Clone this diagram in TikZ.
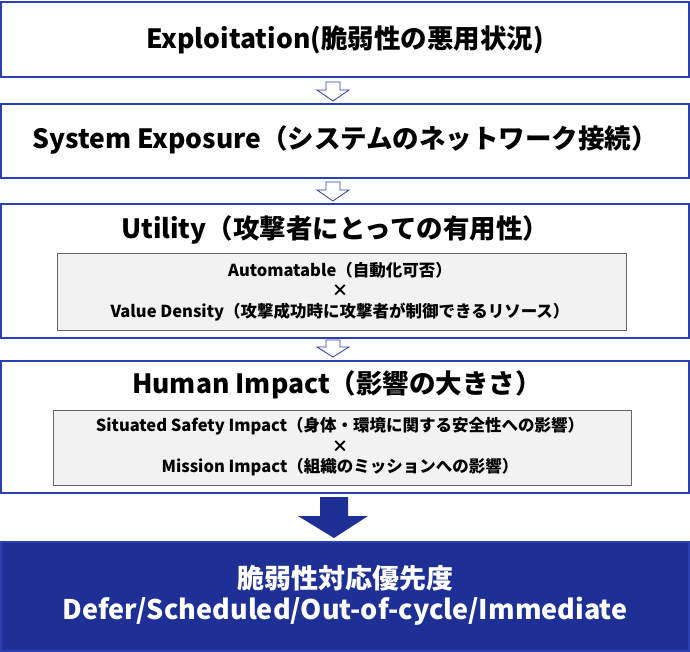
\documentclass[tikz,border=0pt]{standalone}
\usepackage{fontspec}
\setmainfont{Noto Sans CJK JP}
\definecolor{bblue}{HTML}{2B3FB0}
\definecolor{dblue}{HTML}{1E2F96}
\definecolor{igray}{HTML}{F2F2F2}
\begin{document}
\begin{tikzpicture}[x=1pt,y=-1pt,
 box/.style={draw=bblue,line width=2pt},
 inner/.style={draw=gray!80!black,fill=igray,line width=0.8pt},
 ttl/.style={font=\fontsize{26.5}{28}\selectfont\bfseries},
 sm/.style={font=\fontsize{16.5}{17}\selectfont\bfseries},
 bt/.style={font=\fontsize{27}{28}\selectfont\bfseries,text=white},
 sarr/.style={draw=bblue,fill=white,line width=0.8pt},
 barr/.style={fill=dblue}]
\useasboundingbox (0,0) rectangle (690,652);
\draw[box] (1,2) rectangle (689,77);
\node[ttl] (t1) at (345,40) {Exploitation(脆弱性の悪用状況)};
\draw[sarr] (326,82)--(340,82)--(340,90)--(349,90)--(333,101)--(317,90)--(326,90)--cycle;
\draw[box] (1,104) rectangle (689,178);
\node[ttl] (t2) at (345,140) {System Exposure（システムのネットワーク接続）};
\draw[sarr] (326,182)--(340,182)--(340,190)--(349,190)--(333,201)--(317,190)--(326,190)--cycle;
\draw[box] (1,204) rectangle (689,338);
\node[ttl] (t3) at (335,230) {Utility（攻撃者にとっての有用性）};
\draw[inner] (57,253) rectangle (626,330);
\node[sm] (u1) at (340,270) {Automatable（自動化可否）};
\node[sm] (u2) at (340,291) {×};
\node[sm] (u3) at (340,312) {Value Density（攻撃成功時に攻撃者が制御できるリソース）};
\draw[sarr] (326,340)--(340,340)--(340,347)--(349,347)--(333,357)--(317,347)--(326,347)--cycle;
\draw[box] (1,361) rectangle (689,493);
\node[ttl] (t4) at (337,385) {Human Impact（影響の大きさ）};
\draw[inner] (53,410) rectangle (631,485);
\node[sm] (h1) at (340,426) {Situated Safety Impact（身体・環境に関する安全性への影響）};
\node[sm] (h2) at (340,447) {×};
\node[sm] (h3) at (340,467) {Mission Impact（組織のミッションへの影響）};
\fill[barr] (320,497)--(348,497)--(348,516)--(368,516)--(334,538)--(298,516)--(320,516)--cycle;
\fill[dblue] (0,541) rectangle (690,652);
\draw[bblue,line width=2pt] (1,542) rectangle (689,651);
\node[bt] (b1) at (345,578) {脆弱性対応優先度};
\node[bt] (b2) at (345,611) {Defer/Scheduled/Out-of-cycle/Immediate};
\end{tikzpicture}
\end{document}
